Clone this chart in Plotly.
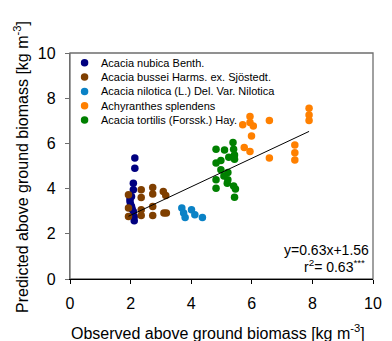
import plotly.graph_objects as go

# ---- data ----
species = [
    "Acacia nubica Benth.",
    "Acacia bussei Harms. ex. Sjöstedt.",
    "Acacia nilotica (L.) Del. Var. Nilotica",
    "Achyranthes splendens",
    "Acacia tortilis (Forssk.) Hay.",
]
colors = ["#000080", "#7F3F00", "#0A82C6", "#FF8000", "#008000"]

nubica_x = [2.14, 2.14, 2.09, 2.09, 2.03, 1.98, 2.03, 2.09, 2.12, 2.12, 1.98, 2.0, 2.05]
nubica_y = [5.35, 4.90, 4.24, 3.95, 3.65, 3.43, 3.21, 2.99, 2.77, 2.58, 3.55, 3.30, 3.10]

bussei_x = [1.93, 1.93, 1.93, 2.35, 2.35, 2.35, 2.35, 2.73, 2.73, 2.73, 2.73, 3.08, 3.16, 3.10, 3.18]
bussei_y = [3.73, 3.14, 2.77, 3.95, 3.61, 3.06, 2.81, 4.05, 3.76, 3.21, 2.81, 3.87, 3.69, 2.92, 2.92]

nilotica_x = [3.69, 3.75, 3.80, 4.01, 4.12, 4.37]
nilotica_y = [3.14, 2.92, 2.72, 3.06, 2.84, 2.72]

achyr_x = [5.94, 5.70, 5.94, 6.05, 6.58, 5.99, 5.75, 5.94, 6.58, 7.89, 7.89, 7.89, 7.42, 7.42, 7.42]
achyr_y = [7.19, 6.82, 6.92, 6.77, 7.01, 6.33, 5.82, 5.64, 5.35, 7.56, 7.26, 7.01, 5.93, 5.59, 5.27]

tortilis_x = [5.38, 4.82, 5.10, 5.40, 5.43, 5.24, 5.43, 4.98, 4.82, 4.98, 5.21, 5.08, 4.82, 5.21,
              5.40, 4.82, 5.46, 5.43, 5.19]
tortilis_y = [6.04, 5.74, 5.71, 5.74, 5.49, 5.39, 5.30, 5.24, 5.13, 4.83, 4.71, 4.56, 4.39, 4.39,
              4.12, 4.02, 3.98, 3.62, 4.24]

slope = 0.63
intercept = 1.56
x_ticks = [0, 2, 4, 6, 8, 10]
y_ticks = [0, 2, 4, 6, 8, 10]

series_x = [nubica_x, bussei_x, nilotica_x, achyr_x, tortilis_x]
series_y = [nubica_y, bussei_y, nilotica_y, achyr_y, tortilis_y]

FONT = "Liberation Sans, Arial, sans-serif"

fig = go.Figure()
for name, c, xs, ys in zip(species, colors, series_x, series_y):
    fig.add_trace(go.Scatter(x=xs, y=ys, mode="markers", name=name,
                             marker=dict(color=c, size=7.5, line=dict(width=0)),
                             showlegend=False))

all_x = [v for s in series_x for v in s]
lx = [min(all_x), max(all_x)]
ly = [slope * v + intercept for v in lx]
fig.add_trace(go.Scatter(x=lx, y=ly, mode="lines", line=dict(color="black", width=1),
                         showlegend=False))

L, R, T, B = 70, 10, 53, 62
W, H = 392, 341
pw, ph = W - L - R, H - T - B

def px2paper_x(px):
    return (px - L) / pw

def py2paper_y(py):
    return (H - B - py) / ph

shapes = []
annotations = []
# manual legend
for i, (name, c) in enumerate(zip(species, colors)):
    py = 62.7 + 14.35 * i
    yy = py2paper_y(py)
    xx = px2paper_x(85)
    shapes.append(dict(type="circle", xref="paper", yref="paper", xsizemode="pixel",
                       ysizemode="pixel", xanchor=xx, yanchor=yy, x0=-3.75, x1=3.75,
                       y0=-3.75, y1=3.75, fillcolor=c, line=dict(width=0)))
    annotations.append(dict(text=name, xref="paper", yref="paper", x=px2paper_x(99.5), y=yy,
                            xanchor="left", yanchor="middle", showarrow=False,
                            font=dict(family=FONT, size=11, color="black")))

# frame (top/right)
shapes.append(dict(type="rect", xref="paper", yref="paper", x0=0, x1=1, y0=0, y1=1,
                   line=dict(color="#6e6e6e", width=1.3), layer="below"))

annotations += [
    dict(text=f"y={slope}x+{intercept}", xref="paper", yref="paper", x=1, y=py2paper_y(250),
         xanchor="right", yanchor="middle", xshift=-2, showarrow=False,
         font=dict(family=FONT, size=14, color="black")),
    dict(text=f"r<sup>2</sup>= {slope}<sup>***</sup>", xref="paper", yref="paper", x=1,
         y=py2paper_y(266), xanchor="right", yanchor="middle", xshift=-6, showarrow=False,
         font=dict(family=FONT, size=14, color="black")),
    dict(text="Observed above ground biomass [kg m<sup>-3</sup>]", xref="paper", yref="paper",
         x=px2paper_x(222), y=py2paper_y(331.7), xanchor="center", yanchor="middle",
         showarrow=False, font=dict(family=FONT, size=16, color="black")),
    dict(text="Predicted above ground biomass [kg m<sup>-3</sup>]", xref="paper", yref="paper",
         x=px2paper_x(19), y=py2paper_y(166.5), xanchor="center", yanchor="middle",
         textangle=-90, showarrow=False, font=dict(family=FONT, size=16, color="black")),
]

fig.update_layout(
    width=W, height=H, margin=dict(l=L, r=R, t=T, b=B, pad=0),
    paper_bgcolor="white", plot_bgcolor="white",
    font=dict(family=FONT, size=16, color="black"),
    shapes=shapes, annotations=annotations, showlegend=False,
    xaxis=dict(range=[0, 10], tickvals=x_ticks, ticktext=[str(v) for v in x_ticks],
               showgrid=False, zeroline=False, showline=True, linecolor="black", linewidth=1.3,
               ticks="outside", ticklen=4, tickcolor="black", tickwidth=1,
               tickfont=dict(family=FONT, size=16), ticklabelstandoff=6),
    yaxis=dict(range=[0, 10], tickvals=y_ticks, ticktext=[str(v) for v in y_ticks],
               showgrid=False, zeroline=False, showline=True, linecolor="#6e6e6e", linewidth=1.3,
               ticks="outside", ticklen=4, tickcolor="#6e6e6e", tickwidth=1,
               tickfont=dict(family=FONT, size=16), ticklabelstandoff=6),
)

fig.write_html("out.html", config={"displayModeBar": False},
               post_script="document.body.style.margin='0';document.body.style.padding='0';"
                           "document.body.style.overflow='hidden';")
